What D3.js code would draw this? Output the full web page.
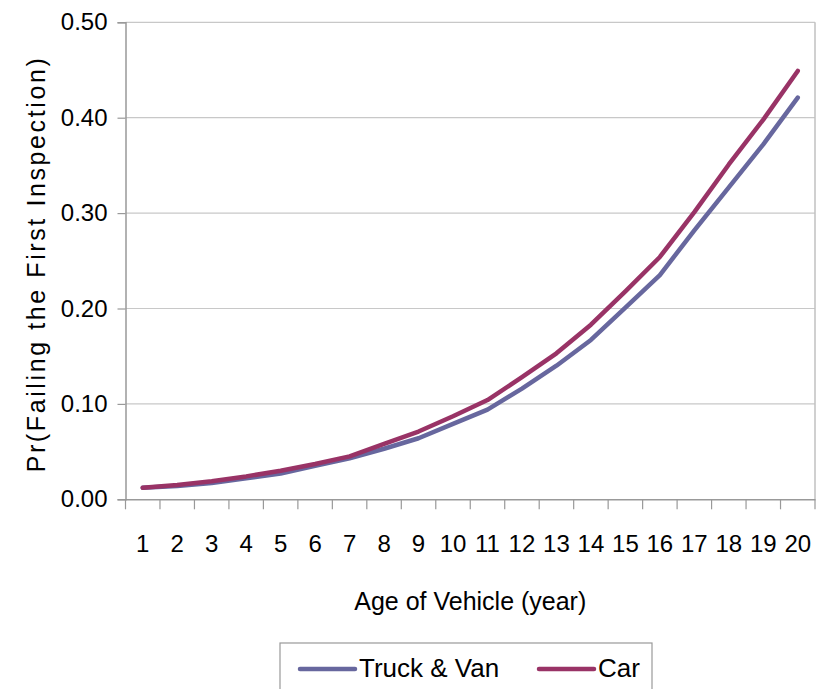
<!DOCTYPE html>
<html>
<head>
<meta charset="utf-8">
<script src="https://cdn.jsdelivr.net/npm/d3@7"></script>
<style>
  html, body { margin: 0; padding: 0; background: #fff; }
  svg { display: block; }
  text { font-family: "Liberation Sans", Arial, sans-serif; fill: #000; }
</style>
</head>
<body>
<svg id="chart" width="830" height="689"></svg>
<script>
// Vehicle age categories (years)
const ages = ["1","2","3","4","5","6","7","8","9","10","11","12","13","14","15","16","17","18","19","20"];
// Probability of failing the first inspection, by vehicle type
const truckVan = [0.012, 0.014, 0.017, 0.022, 0.027, 0.035, 0.043, 0.053, 0.064, 0.079, 0.094, 0.116, 0.140, 0.167, 0.201, 0.235, 0.282, 0.327, 0.372, 0.421];
const car      = [0.012, 0.015, 0.019, 0.024, 0.030, 0.037, 0.045, 0.058, 0.071, 0.087, 0.104, 0.128, 0.153, 0.183, 0.218, 0.254, 0.301, 0.351, 0.398, 0.449];
const yTicks = [0.0, 0.1, 0.2, 0.3, 0.4, 0.5];
const seriesNames = ["Truck & Van", "Car"];
const seriesColors = ["#67679e", "#993366"];

const svg = d3.select("#chart");
const plotL = 125.5, plotR = 815, plotT = 22.3, plotB = 499.3;

const x = d3.scaleBand().domain(ages).range([plotL, plotR]).padding(0);
const y = d3.scaleLinear().domain([0, 0.5]).range([plotB, plotT]);

// horizontal gridlines
svg.append("g").selectAll("line").data(yTicks.slice(1)).join("line")
  .attr("x1", plotL).attr("x2", plotR)
  .attr("y1", d => y(d)).attr("y2", d => y(d))
  .attr("stroke", "#c8c8c8").attr("stroke-width", 1.2);

// plot frame (right edge)
svg.append("line").attr("x1", plotR).attr("x2", plotR).attr("y1", plotT).attr("y2", plotB)
  .attr("stroke", "#c0c0c0").attr("stroke-width", 1.5);

// y axis
const yAxis = svg.append("g").attr("transform", `translate(${plotL},0)`)
  .call(d3.axisLeft(y).tickValues(yTicks).tickFormat(d3.format(".2f")).tickSize(8).tickPadding(10));
yAxis.select(".domain").attr("stroke", "#999").attr("stroke-width", 1.5);
yAxis.selectAll(".tick line").attr("stroke", "#999").attr("stroke-width", 1.2);
yAxis.selectAll(".tick text").attr("font-size", 24).attr("font-family", "Liberation Sans, Arial, sans-serif").attr("fill", "#000");

// x axis: labels centred in each category, ticks at category boundaries
const xAxis = svg.append("g").attr("transform", `translate(0,${plotB})`)
  .call(d3.axisBottom(x).tickSize(0).tickPadding(36));
xAxis.select(".domain").attr("stroke", "#999").attr("stroke-width", 1.5);
xAxis.selectAll(".tick text").attr("font-size", 24).attr("font-family", "Liberation Sans, Arial, sans-serif").attr("fill", "#000");
const bounds = ages.map(a => x(a)).concat([x(ages[ages.length - 1]) + x.bandwidth()]);
svg.append("g").selectAll("line").data(bounds).join("line")
  .attr("x1", d => d).attr("x2", d => d)
  .attr("y1", plotB).attr("y2", plotB + 10)
  .attr("stroke", "#999").attr("stroke-width", 1.2);

// axis titles
svg.append("text")
  .attr("transform", `translate(45,264) rotate(-90)`)
  .attr("text-anchor", "middle")
  .attr("font-size", 25).attr("letter-spacing", 2.6)
  .text("Pr(Failing the First Inspection)");
svg.append("text")
  .attr("x", (plotL + plotR) / 2).attr("y", 610)
  .attr("text-anchor", "middle").attr("font-size", 25)
  .text("Age of Vehicle (year)");

// series lines
const line = d3.line()
  .x((d, i) => x(ages[i]) + x.bandwidth() / 2)
  .y(d => y(d));
[truckVan, car].forEach((vals, k) => {
  svg.append("path").datum(vals)
    .attr("d", line)
    .attr("fill", "none")
    .attr("stroke", seriesColors[k])
    .attr("stroke-width", 4.5)
    .attr("stroke-linejoin", "round")
    .attr("stroke-linecap", "round");
});

// legend
const lg = svg.append("g");
lg.append("rect").attr("x", 280).attr("y", 643).attr("width", 372).attr("height", 60)
  .attr("fill", "#fff").attr("stroke", "#999").attr("stroke-width", 1.2);
const legendX = [300, 539];
seriesNames.forEach((name, k) => {
  lg.append("line").attr("x1", legendX[k]).attr("x2", legendX[k] + 55)
    .attr("y1", 669).attr("y2", 669)
    .attr("stroke", seriesColors[k]).attr("stroke-width", 4.5).attr("stroke-linecap", "round");
  lg.append("text").attr("x", legendX[k] + 59).attr("y", 677)
    .attr("font-size", 26).text(name);
});
</script>
</body>
</html>
